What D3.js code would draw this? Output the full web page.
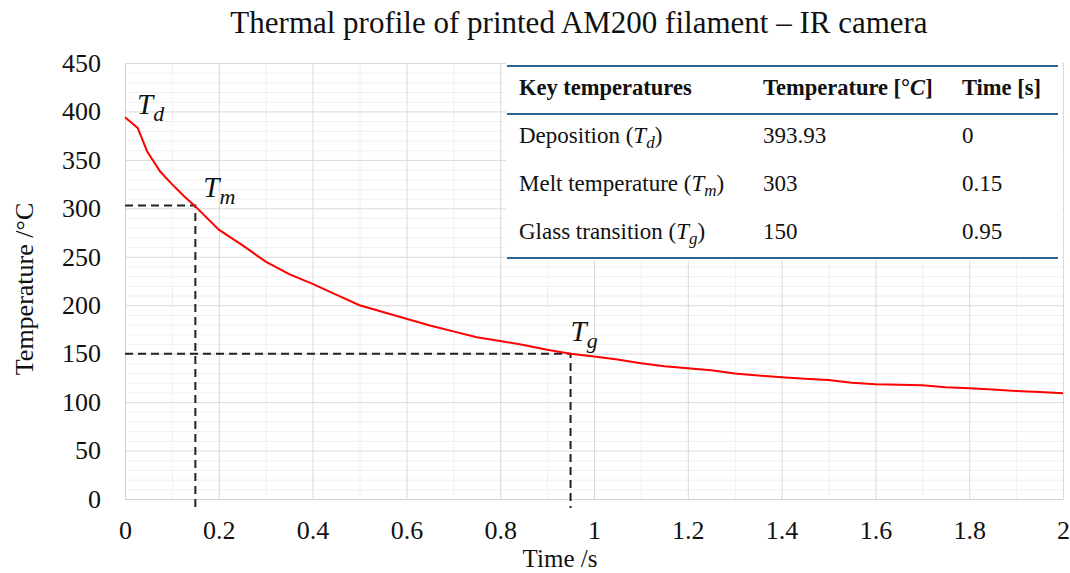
<!DOCTYPE html>
<html>
<head>
<meta charset="utf-8">
<script src="https://cdn.jsdelivr.net/npm/d3@7"></script>
<style>
  body { margin: 0; background: #fff; }
  svg text { font-family: "Liberation Serif", "Times New Roman", serif; fill: #111; }
</style>
</head>
<body>
<div id="chart"></div>
<script>
// IR camera readings, time in s and temperature in °C
var times = [0, 0.027, 0.047, 0.075, 0.10, 0.125, 0.15, 0.20, 0.25, 0.30, 0.35, 0.40, 0.45, 0.50,
             0.55, 0.60, 0.65, 0.70, 0.75, 0.80, 0.85, 0.90, 0.95, 1.00, 1.05, 1.10, 1.15, 1.20,
             1.25, 1.30, 1.35, 1.40, 1.45, 1.50, 1.55, 1.60, 1.65, 1.70, 1.75, 1.80, 1.85, 1.90,
             1.95, 2.00];
var temps = [394, 383, 359, 338, 325, 313, 302, 278, 262, 245, 232, 222, 211, 200,
             193, 186, 179, 173, 167, 163, 159, 154, 150, 147, 144, 140, 137, 135,
             133, 129.5, 127.5, 125.6, 124, 122.8, 120, 118.4, 118, 117.3, 115.3, 114.2, 113, 111.5,
             110.5, 109.1];

// key points marked on the curve
var keyLabels = ["d", "m", "g"];
var keyTemps = [393.93, 303, 150];
var keyTimes = [0, 0.15, 0.95];

// table rows
var rowNames = ["Deposition", "Melt temperature", "Glass transition"];
var rowTemps = ["393.93", "303", "150"];
var rowTimes = ["0", "0.15", "0.95"];

var xTicks = [0, 0.2, 0.4, 0.6, 0.8, 1, 1.2, 1.4, 1.6, 1.8, 2];
var yTicks = [0, 50, 100, 150, 200, 250, 300, 350, 400, 450];

var W = 1070, H = 573;
var margin = {top: 63, right: 7, bottom: 74, left: 125};
var width = W - margin.left - margin.right,
    height = H - margin.top - margin.bottom;

var svg = d3.select("#chart").append("svg")
    .attr("width", W).attr("height", H);

var g = svg.append("g")
    .attr("transform", "translate(" + margin.left + "," + margin.top + ")");

var x = d3.scaleLinear().domain([0, 2]).range([0, width]);
var y = d3.scaleLinear().domain([0, 450]).range([height, 0]);

// minor grid
g.append("g")
    .attr("transform", "translate(0," + height + ")")
    .call(d3.axisBottom(x).tickValues(d3.range(0.1, 2, 0.2)).tickSize(-height).tickFormat(""))
    .call(function(s) { s.select(".domain").remove(); s.selectAll("line").attr("stroke", "#f0f0f0"); });
g.append("g")
    .call(d3.axisLeft(y).tickValues(d3.range(0, 451, 10).filter(function(v) { return v % 50; }))
        .tickSize(-width).tickFormat(""))
    .call(function(s) { s.select(".domain").remove(); s.selectAll("line").attr("stroke", "#f0f0f0"); });

// major grid
g.append("g")
    .attr("transform", "translate(0," + height + ")")
    .call(d3.axisBottom(x).tickValues(xTicks).tickSize(-height).tickFormat(""))
    .call(function(s) { s.select(".domain").remove(); s.selectAll("line").attr("stroke", "#d9d9d9"); });
g.append("g")
    .call(d3.axisLeft(y).tickValues(yTicks).tickSize(-width).tickFormat(""))
    .call(function(s) { s.select(".domain").remove(); s.selectAll("line").attr("stroke", "#d9d9d9"); });

// axis tick labels
var xAxis = g.append("g")
    .attr("transform", "translate(0," + height + ")")
    .call(d3.axisBottom(x).tickValues(xTicks).tickSize(0).tickPadding(22).tickFormat(d3.format("")));
xAxis.select(".domain").attr("stroke", "#d0d0d0");
xAxis.selectAll("text").style("font-size", "26px");

var yAxis = g.append("g")
    .call(d3.axisLeft(y).tickValues(yTicks).tickSize(0).tickPadding(24));
yAxis.select(".domain").attr("stroke", "#d0d0d0");
yAxis.selectAll("text").style("font-size", "26px");

// dashed guides for Tm and Tg
var guides = [1, 2];
guides.forEach(function(i) {
  g.append("path")
      .attr("d", "M0," + y(keyTemps[i]) + "H" + x(keyTimes[i]) + "V" + (height + 9))
      .attr("fill", "none")
      .attr("stroke", "#222")
      .attr("stroke-width", 2)
      .attr("stroke-dasharray", "8,5");
});

// curve
g.append("path")
    .datum(times)
    .attr("fill", "none")
    .attr("stroke", "#ff0000")
    .attr("stroke-width", 2)
    .attr("d", d3.line()
        .x(function(d) { return x(d); })
        .y(function(d, i) { return y(temps[i]); }));

// T labels on the curve
var labelOffsets = [[12, 3], [8, 8], [0, 13]];
keyLabels.forEach(function(k, i) {
  var t = g.append("text")
      .attr("x", x(keyTimes[i]) + labelOffsets[i][0])
      .attr("y", y(keyTemps[i]) - labelOffsets[i][1])
      .style("font-size", "29px")
      .style("font-style", "italic");
  t.append("tspan").text("T");
  t.append("tspan").attr("dy", 7).style("font-size", "22px").text(k);
});

// table
var tab = svg.append("g");
tab.append("rect")
    .attr("x", 506).attr("y", 61).attr("width", 556).attr("height", 200)
    .attr("fill", "#fff");
[66, 114, 258].forEach(function(ly) {
  tab.append("line")
      .attr("x1", 507).attr("x2", 1058).attr("y1", ly).attr("y2", ly)
      .attr("stroke", "#2e6590").attr("stroke-width", 2);
});
var colX = [519, 763, 962];
var head = tab.append("g").style("font-size", "22.5px").style("font-weight", "bold");
head.append("text").attr("x", colX[0]).attr("y", 95).text("Key temperatures");
var th = head.append("text").attr("x", colX[1]).attr("y", 95);
th.append("tspan").text("Temperature [°");
th.append("tspan").style("font-style", "italic").text("C");
th.append("tspan").text("]");
head.append("text").attr("x", colX[2]).attr("y", 95).text("Time [s]");

rowNames.forEach(function(n, i) {
  var ry = 143 + i * 48;
  var t = tab.append("text").attr("x", colX[0]).attr("y", ry).style("font-size", "23px");
  t.append("tspan").text(n + " (");
  t.append("tspan").style("font-style", "italic").text("T");
  t.append("tspan").attr("dy", 5).style("font-style", "italic").style("font-size", "17px").text(keyLabels[i]);
  t.append("tspan").attr("dy", -5).text(")");
  tab.append("text").attr("x", colX[1]).attr("y", ry).style("font-size", "23px").text(rowTemps[i]);
  tab.append("text").attr("x", colX[2]).attr("y", ry).style("font-size", "23px").text(rowTimes[i]);
});

// titles
svg.append("text")
    .attr("x", 579).attr("y", 33)
    .attr("text-anchor", "middle")
    .style("font-size", "31px")
    .text("Thermal profile of printed AM200 filament \u2013 IR camera");
svg.append("text")
    .attr("x", 560).attr("y", 567)
    .attr("text-anchor", "middle")
    .style("font-size", "25px")
    .text("Time /s");
svg.append("text")
    .attr("text-anchor", "middle")
    .attr("transform", "translate(33,289)rotate(-90)")
    .style("font-size", "26px")
    .text("Temperature /°C");
</script>
</body>
</html>
